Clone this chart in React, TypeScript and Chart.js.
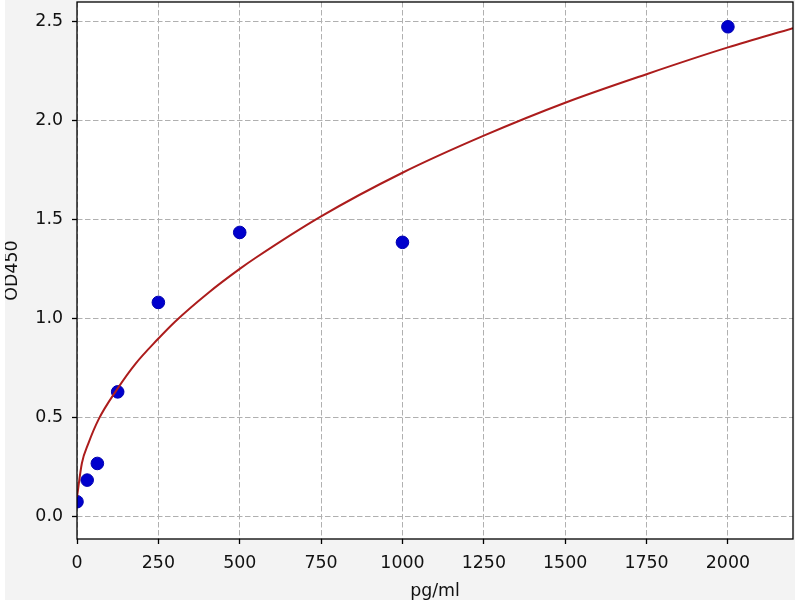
import React, { useEffect, useRef } from "react";
import { Chart, registerables, Plugin } from "chart.js";

Chart.register(...registerables);

// Standards (concentration in pg/ml vs OD450)
const standardConc = [0, 31.25, 62.5, 125, 250, 500, 1000, 2000];
const standardOD = [0.076, 0.185, 0.269, 0.63, 1.081, 1.434, 1.384, 2.471];

// Fitted curve
const curveConc = [0, 15, 35, 66, 122, 179, 248, 302, 404, 500, 548, 750, 1000, 1250, 1500, 1750, 2000, 2200];
const curveOD = [0.1, 0.27, 0.37, 0.49, 0.64, 0.77, 0.895, 0.985, 1.13, 1.25, 1.305, 1.515, 1.735, 1.922, 2.088, 2.232, 2.367, 2.464];

// Axis ticks
const xTicks = [0, 250, 500, 750, 1000, 1250, 1500, 1750, 2000];
const yTicks = [0, 0.5, 1, 1.5, 2, 2.5];

const FONT = "'DejaVu Sans', sans-serif";
const FONT_SIZE = 17.4;

// white plot area + black frame, like matplotlib axes
const framePlugin: Plugin = {
  id: "frame",
  beforeDraw(chart) {
    const { ctx, chartArea: a } = chart;
    ctx.save();
    ctx.fillStyle = "#ffffff";
    ctx.fillRect(a.left, a.top, a.right - a.left, a.bottom - a.top);
    ctx.restore();
  },
  afterDraw(chart) {
    const { ctx, chartArea: a } = chart;
    ctx.save();
    ctx.strokeStyle = "#000000";
    ctx.lineWidth = 1.3;
    ctx.strokeRect(a.left, a.top, a.right - a.left, a.bottom - a.top);
    ctx.restore();
  },
};

const noPadding = (scale: any) => {
  scale.paddingTop = 0;
  scale.paddingBottom = 0;
  scale.paddingLeft = 0;
  scale.paddingRight = 0;
};

export default function App() {
  const canvasRef = useRef<HTMLCanvasElement | null>(null);
  const chartRef = useRef<Chart | null>(null);

  useEffect(() => {
    if (!canvasRef.current) return;
    if (chartRef.current) chartRef.current.destroy();

    const ctx = canvasRef.current.getContext("2d");
    if (!ctx) return;

    const gridOpts = {
      color: "#b0b0b0",
      lineWidth: 1,
      drawTicks: true,
      tickLength: 5,
      tickColor: "#000000",
      tickWidth: 1.3,
    };

    chartRef.current = new Chart(ctx, {
      type: "scatter",
      data: {
        datasets: [
          {
            label: "fit",
            data: curveConc.map((x, i) => ({ x, y: curveOD[i] })),
            showLine: true,
            borderColor: "rgb(172, 28, 28)",
            borderWidth: 2,
            pointRadius: 0,
            cubicInterpolationMode: "monotone",
            order: 0,
          },
          {
            label: "standards",
            data: standardConc.map((x, i) => ({ x, y: standardOD[i] })),
            showLine: false,
            backgroundColor: "#0000cd",
            borderColor: "#0000b0",
            borderWidth: 1,
            pointRadius: 6.3,
            clip: 0,
            order: 1,
          },
        ],
      },
      options: {
        animation: false,
        responsive: true,
        maintainAspectRatio: false,
        layout: { autoPadding: false, padding: { top: 2, right: 2, left: 0, bottom: 0 } },
        plugins: {
          legend: { display: false },
          tooltip: { enabled: false },
        },
        scales: {
          x: {
            type: "linear",
            position: "bottom",
            min: 0,
            max: 2200,
            grid: gridOpts,
            border: { display: false, dash: [5.5, 2.5] },
            afterBuildTicks: (scale) => {
              scale.ticks = xTicks.map((value) => ({ value }));
            },
            ticks: {
              autoSkip: false,
              padding: 9,
              color: "#111111",
              font: { family: FONT, size: FONT_SIZE },
              maxRotation: 0,
              callback: (v) => String(v),
            },
            title: {
              display: true,
              text: "pg/ml",
              color: "#111111",
              font: { family: FONT, size: FONT_SIZE, lineHeight: 1 },
              padding: { top: 3, bottom: 0 },
            },
            afterFit: (scale) => {
              scale.height = 61;
              noPadding(scale);
            },
          },
          y: {
            type: "linear",
            min: -0.112,
            max: 2.596,
            grid: gridOpts,
            border: { display: false, dash: [5.5, 2.5] },
            afterBuildTicks: (scale) => {
              scale.ticks = yTicks.map((value) => ({ value }));
            },
            ticks: {
              autoSkip: false,
              padding: 9,
              color: "#111111",
              font: { family: FONT, size: FONT_SIZE },
              callback: (v) => Number(v).toFixed(1),
            },
            title: {
              display: true,
              text: "OD450",
              color: "#111111",
              font: { family: FONT, size: FONT_SIZE, lineHeight: 1 },
              padding: { top: -1, bottom: 0 },
            },
            afterFit: (scale) => {
              scale.width = 72;
              noPadding(scale);
            },
          },
        },
      },
      plugins: [framePlugin],
    });

    return () => {
      if (chartRef.current) {
        chartRef.current.destroy();
        chartRef.current = null;
      }
    };
  }, []);

  return (
    <div style={{ position: "absolute", left: 0, top: 0, width: 800, height: 600, background: "#ffffff" }}>
      <div style={{ position: "absolute", left: 5, top: 0, width: 790, height: 600, background: "#f3f3f3" }}>
        <canvas ref={canvasRef} />
      </div>
    </div>
  );
}
